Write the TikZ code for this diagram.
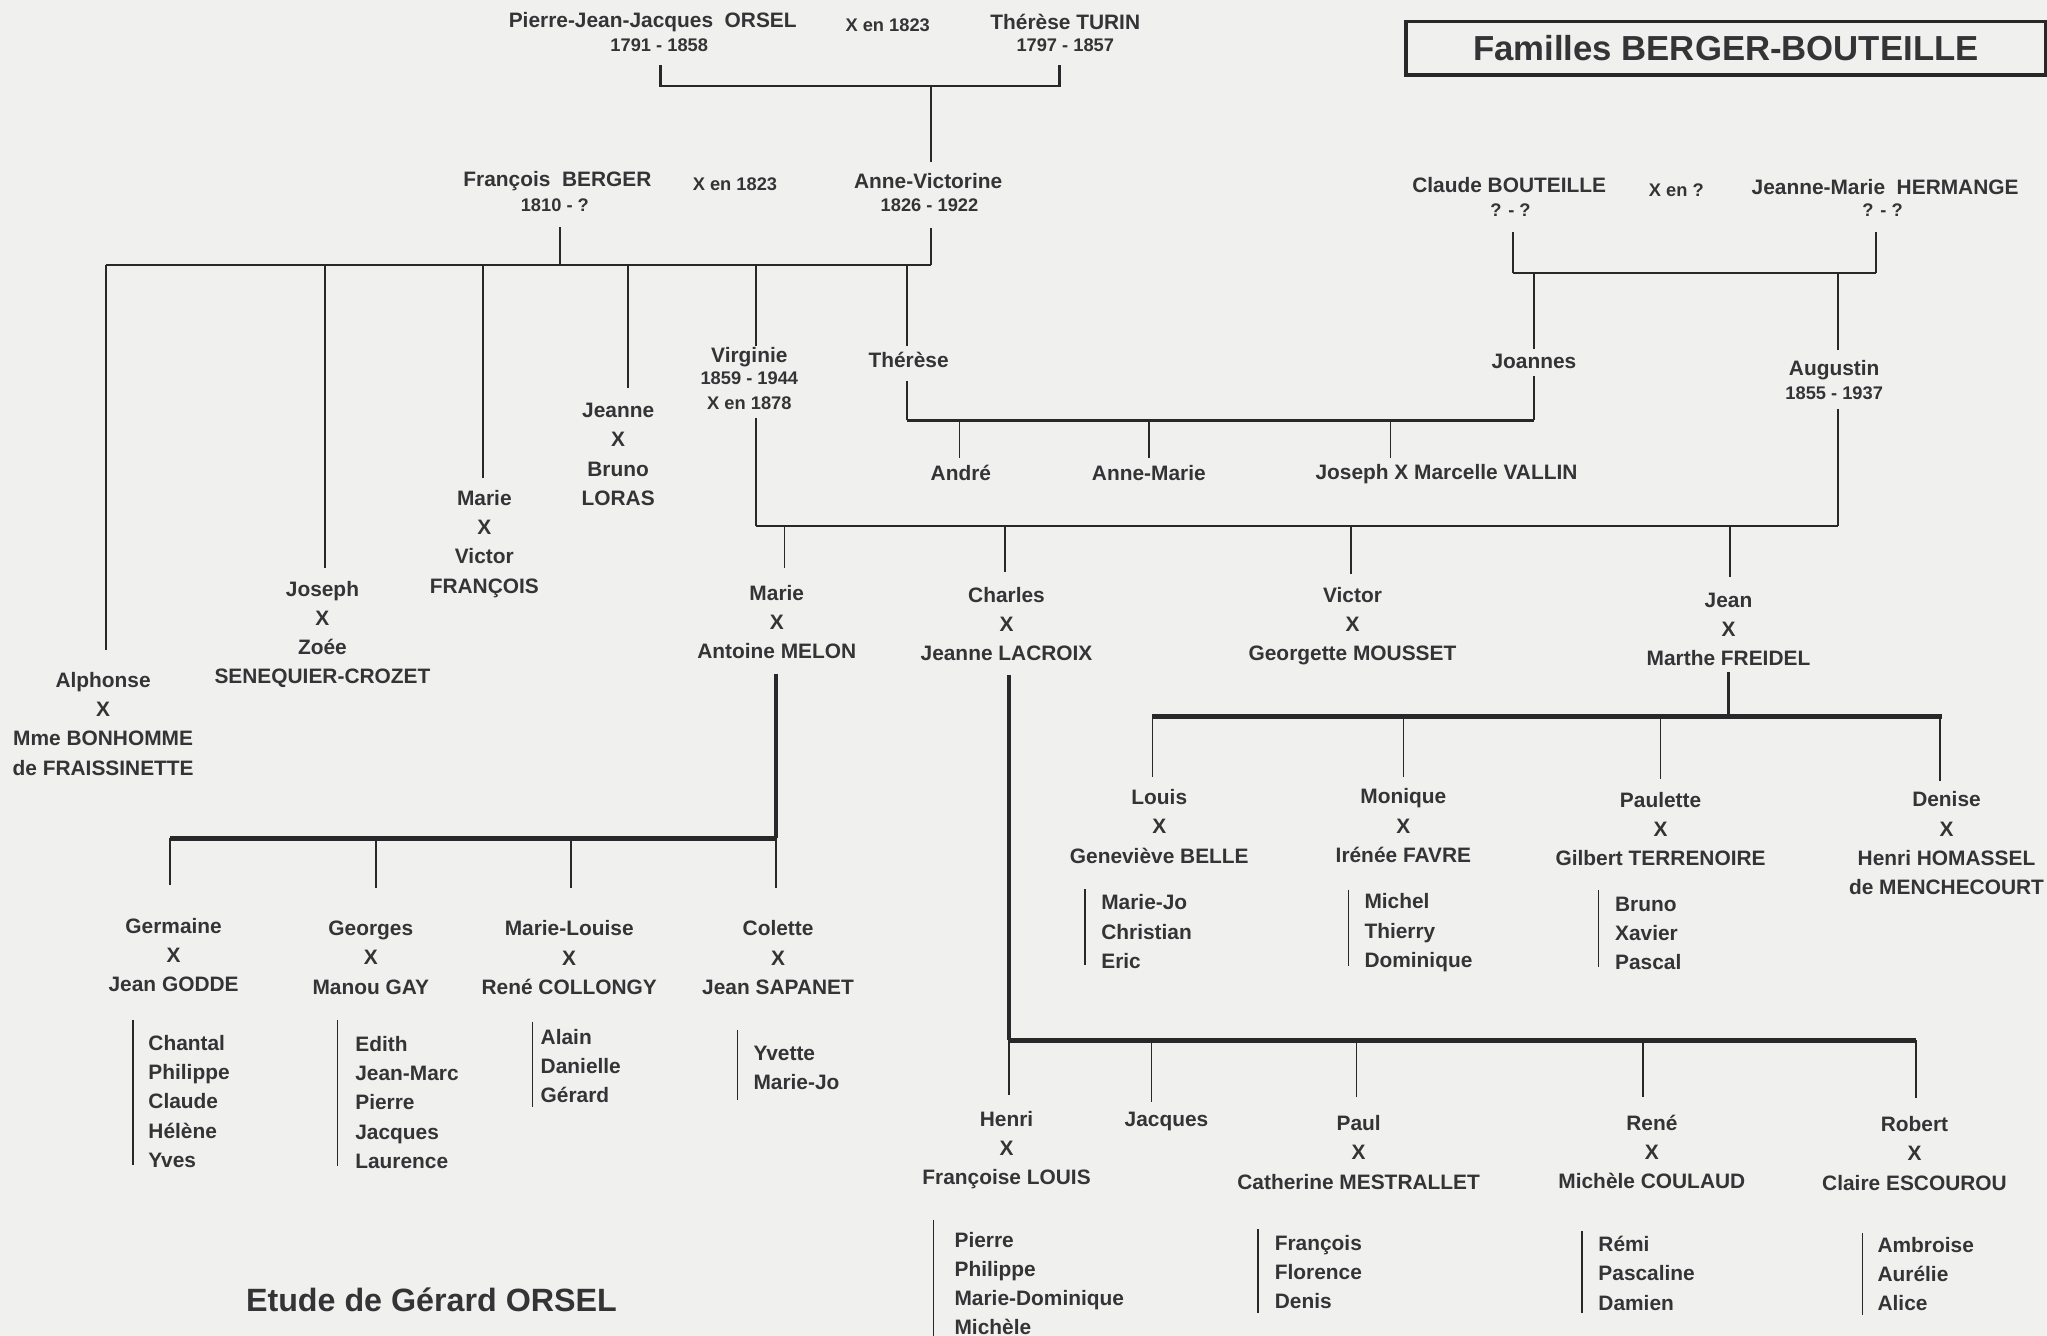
\documentclass[tikz,border=0pt]{standalone}
\usepackage{fontspec}
\setmainfont{Liberation Sans}
\definecolor{bg}{RGB}{240,240,238}
\definecolor{ink}{RGB}{40,40,42}
\definecolor{txt}{RGB}{52,52,55}
\newcommand\fnm{\bfseries\fontsize{16}{22.4}\selectfont}
\newcommand\fsm{\bfseries\fontsize{14}{18}\selectfont}
\newcommand\fvd{\bfseries\fontsize{14}{19}\selectfont}
\newcommand\fttl{\bfseries\fontsize{26.6}{32}\selectfont}
\newcommand\fetu{\bfseries\fontsize{24.7}{30}\selectfont}
\begin{document}
\begin{tikzpicture}[x=1pt,y=-1pt,
  every node/.style={inner sep=0pt, text=txt},
  pers/.style={font=\fnm, align=center},
  sm/.style={font=\fsm, align=center},
  kids/.style={font=\fnm, align=left, anchor=west},
  lnthin/.style={draw=ink, line width=1.3pt},
  lnmid/.style={draw=ink, line width=2pt},
  lnthick/.style={draw=ink, line width=3.8pt},
  lnthickv/.style={draw=ink, line width=2.8pt}]
\fill[bg] (0,0) rectangle (1568,1023);
\useasboundingbox (0,0) rectangle (1568,1023);

% title
\node[draw=ink, line width=2.5pt, minimum width=490pt, minimum height=41pt, font=\fttl] (title) at (1322,37) {Familles BERGER-BOUTEILLE};

% generation 1
\node[pers] (pjj) at (500,17) {Pierre-Jean-Jacques\ \ ORSEL};
\node[sm] (pjjd) at (505,34.5) {1791 - 1858};
\node[sm] (m1) at (680,19) {X en 1823};
\node[pers] (tt) at (816,17) {Thérèse TURIN};
\node[sm] (ttd) at (816,35) {1797 - 1857};
\draw[lnmid] (506,50) coordinate (c1a) -- (506,66) -- (811.6,66) -- (811.6,50) coordinate (c1b);
\draw[lnthin] (713,66) coordinate (c1m) -- (713,124) coordinate (avT);

% generation 2 - Berger
\node[pers] (fb) at (427,139) {François\ \ BERGER};
\node[sm] (fbd) at (425,157) {1810 - ?};
\node[sm] (m2) at (563,141) {X en 1823};
\node[pers] (av) at (711,139) {Anne-Victorine};
\node[sm] (avd) at (712,157) {1826 - 1922};
\draw[lnmid] (81,203) coordinate (b2L) -- (713,203) coordinate (b2R);
\draw[lnthin] (429,174) coordinate (fbB) -- (429,203);
\draw[lnthin] (713,175) coordinate (avB) -- (b2R);
\draw[lnthin] (b2L) -- (81,498) coordinate (alphT);
\draw[lnthin] (249,203) -- (249,435) coordinate (josT);
\draw[lnthin] (370,203) -- (370,366) coordinate (mar1T);
\draw[lnthin] (481,203) -- (481,297) coordinate (jeaT);
\draw[lnthin] (579,203) -- (579,265) coordinate (virT);
\draw[lnthin] (695,203) -- (695,265) coordinate (therT);

\node[pers] (alph) at (79,554.5) {Alphonse\\X\\Mme BONHOMME\\de FRAISSINETTE};
\node[pers] (jos) at (247,486) {Joseph\\X\\Zoée\\SENEQUIER-CROZET};
\node[pers] (mar1) at (371,416.5) {Marie\\X\\Victor\\FRANÇOIS};
\node[pers] (jea) at (473.5,348) {Jeanne\\X\\Bruno\\LORAS};
\node[pers] (vir) at (574,273.5) {Virginie};
\node[font=\fvd, align=center] (vird) at (574,299.5) {1859 - 1944\\X en 1878};
\node[pers] (ther) at (696,276) {Thérèse};

% Bouteille
\node[pers] (cb) at (1156,142) {Claude BOUTEILLE};
\node[sm] (cbd) at (1157,161) {? - ?};
\node[sm] (m3) at (1284,146) {X en ?};
\node[pers] (jmh) at (1444,143) {Jeanne-Marie\ \ HERMANGE};
\node[sm] (jmhd) at (1442,161) {? - ?};
\draw[lnthin] (1159,178) coordinate (cbB) -- (1159,209);
\draw[lnthin] (1437,178) coordinate (jmhB) -- (1437,209);
\draw[lnmid] (1159,209) -- (1437,209);
\draw[lnthin] (1175,209) -- (1175,267) coordinate (joaT);
\draw[lnthin] (1408,209) -- (1408,268) coordinate (augT);
\node[pers] (joa) at (1175,277) {Joannes};
\node[pers] (aug) at (1405,283.5) {Augustin};
\node[sm] (augd) at (1405,301) {1855 - 1937};

% Therese x Joannes
\draw[lnthin] (695,292) coordinate (therB) -- (695,322);
\draw[lnthin] (1175,288) coordinate (joaB) -- (1175,322);
\draw[lnmid] (695,322) -- (1175,322);
\draw[lnthin] (735,322) -- (735,351) coordinate (andT);
\draw[lnthin] (880,322) -- (880,351) coordinate (anmT);
\draw[lnthin] (1065,322) -- (1065,351) coordinate (josvT);
\node[pers] (andre) at (736,362) {André};
\node[pers] (anm) at (880,362.5) {Anne-Marie};
\node[pers] (josv) at (1108,363) {Joseph X Marcelle VALLIN};

% Virginie x Augustin
\draw[lnthin] (579,320) coordinate (virB) -- (579,403);
\draw[lnthin] (1408,313) coordinate (augB) -- (1408,403);
\draw[lnmid] (579,403) -- (1408,403);
\draw[lnthin] (601,403) -- (601,435) coordinate (mar2T);
\draw[lnthin] (770,403) -- (770,438) coordinate (chaT);
\draw[lnthin] (1035,403) -- (1035,440) coordinate (vicT);
\draw[lnthin] (1325,403) -- (1325,442) coordinate (jeanT);
\node[pers] (mar2) at (595,476.5) {Marie\\X\\Antoine MELON};
\node[pers] (cha) at (771,478) {Charles\\X\\Jeanne LACROIX};
\node[pers] (vic) at (1036,479.5) {Victor\\X\\Georgette MOUSSET};
\node[pers] (jean) at (1324,482) {Jean\\X\\Marthe FREIDEL};

% Marie x Antoine MELON
\draw[lnthickv] (594.5,516) coordinate (mar2B) -- (594.5,642);
\draw[lnthick] (130,642) -- (594.5,642);
\draw[lnthin] (130,642) -- (130,678) coordinate (gerT);
\draw[lnthin] (288,642) -- (288,680) coordinate (geoT);
\draw[lnthin] (437.5,642) -- (437.5,680) coordinate (mloT);
\draw[lnthin] (594.5,642) -- (594.5,680) coordinate (colT);
\node[pers] (ger) at (133,731.5) {Germaine\\X\\Jean GODDE};
\node[pers] (geo) at (284,733.5) {Georges\\X\\Manou GAY};
\node[pers] (mlo) at (436,733.5) {Marie-Louise\\X\\René COLLONGY};
\node[pers] (col) at (596,733.5) {Colette\\X\\Jean SAPANET};
\draw[lnthin] (102,781) -- (102,892);
\node[kids] (gerk) at (113.5,843.6) {Chantal\\Philippe\\Claude\\Hélène\\Yves};
\draw[lnthin] (258.5,781) -- (258.5,893);
\node[kids] (geok) at (272,844.4) {Edith\\Jean-Marc\\Pierre\\Jacques\\Laurence};
\draw[lnthin] (408,782.6) -- (408,847.7);
\node[kids] (mlok) at (414,816.7) {Alain\\Danielle\\Gérard};
\draw[lnthin] (565,789) -- (565,842.6);
\node[kids] (colk) at (577,818) {Yvette\\Marie-Jo};

% Jean x Marthe FREIDEL
\draw[lnthickv] (1324,514.5) coordinate (jeanB) -- (1324,549);
\draw[lnthick] (882.7,549) -- (1487.6,549);
\draw[lnthin] (882.7,549) -- (882.7,595) coordinate (louT);
\draw[lnthin] (1075,549) -- (1075,595.5) coordinate (monT);
\draw[lnthin] (1272,549) -- (1272,597) coordinate (pauT);
\draw[lnthin] (1486,549) -- (1486,598) coordinate (denT);
\node[pers] (lou) at (888,633) {Louis\\X\\Geneviève BELLE};
\node[pers] (mon) at (1075,632.5) {Monique\\X\\Irénée FAVRE};
\node[pers] (pau) at (1272,635) {Paulette\\X\\Gilbert TERRENOIRE};
\node[pers] (den) at (1491,646) {Denise\\X\\Henri HOMASSEL\\de MENCHECOURT};
\draw[lnthin] (831,681) -- (831,739);
\node[kids] (louk) at (843.4,713.6) {Marie-Jo\\Christian\\Eric};
\draw[lnthin] (1033,681.5) -- (1033,740);
\node[kids] (monk) at (1045,714.5) {Michel\\Thierry\\Dominique};
\draw[lnthin] (1224.5,682) -- (1224.5,741);
\node[kids] (pauk) at (1237,715) {Bruno\\Xavier\\Pascal};

% Charles x Jeanne LACROIX
\draw[lnthickv] (773,517) coordinate (chaB) -- (773,797);
\draw[lnthick] (773,797) -- (1468,797);
\draw[lnthin] (773,797) -- (773,839) coordinate (henT);
\draw[lnthin] (882,797) -- (882,844) coordinate (jacT);
\draw[lnthin] (1039,797) -- (1039,840) coordinate (paulT);
\draw[lnthin] (1258.5,797) -- (1258.5,840.6) coordinate (reneT);
\draw[lnthin] (1467.7,797) -- (1467.7,841) coordinate (robT);
\node[pers] (hen) at (771,881) {Henri\\X\\Françoise LOUIS};
\node[pers] (jac) at (893.5,859.2) {Jacques};
\node[pers] (paul) at (1040.7,882.7) {Paul\\X\\Catherine MESTRALLET};
\node[pers] (rene) at (1265.3,882.5) {René\\X\\Michèle COULAUD};
\node[pers] (rob) at (1466.5,883.5) {Robert\\X\\Claire ESCOUROU};
\draw[lnthin] (715,934.5) -- (715,1030);
\node[kids] (henk) at (731,983.2) {Pierre\\Philippe\\Marie-Dominique\\Michèle};
\draw[lnthin] (963.6,941.5) -- (963.6,1005.8);
\node[kids] (paulk) at (976.3,974.5) {François\\Florence\\Denis};
\draw[lnthin] (1211.6,943) -- (1211.6,1006);
\node[kids] (renek) at (1224.2,975.4) {Rémi\\Pascaline\\Damien};
\draw[lnthin] (1426.6,944.6) -- (1426.6,1007);
\node[kids] (robk) at (1438,975.8) {Ambroise\\Aurélie\\Alice};

% footer
\node[font=\fetu] (etude) at (330.5,995.8) {Etude de Gérard ORSEL};
\end{tikzpicture}
\end{document}
